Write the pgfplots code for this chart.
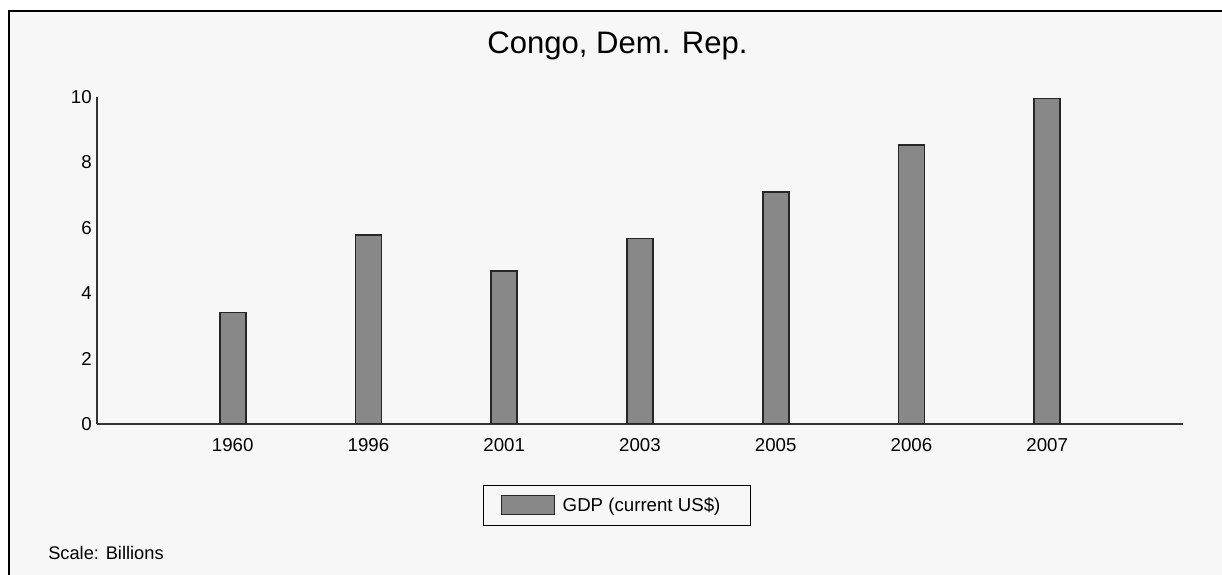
\documentclass[border=0pt]{standalone}
\usepackage{pgfplots}
\pgfplotsset{compat=1.18}
\usepackage{fontspec}
\setmainfont{Liberation Sans}
\definecolor{bgpanel}{HTML}{F7F7F7}
\definecolor{barfill}{HTML}{888888}
\definecolor{barline}{HTML}{262626}
\definecolor{axisline}{HTML}{333333}
\begin{document}
% 1 px of the reference = 0.75pt
\begin{tikzpicture}
\begin{scope}[x=0.75pt,y=0.75pt]
\useasboundingbox (0,0) rectangle (1222,575);
\fill[white] (0,0) rectangle (1222,575);
\fill[bgpanel] (9,0) rectangle (1222,564);
\draw[black, line width=1.6pt] (9,0) -- (9,564) -- (1222,564);
\end{scope}
\begin{axis}[
    at={(72.75pt,113.25pt)}, anchor=south west,
    width=814.5pt, height=245.25pt, scale only axis,
    xmin=0, xmax=8, ymin=0, ymax=10,
    axis x line*=bottom, axis y line*=left,
    axis line style={axisline, line width=1.1pt},
    xtick={1,...,7},
    xticklabels={1960,1996,2001,2003,2005,2006,2007},
    ytick={0,2,4,6,8,10},
    major tick length=0pt,
    /pgf/number format/assume math mode=true,
    tick label style={font=\fontsize{14}{16}\selectfont, text=black},
    xticklabel style={anchor=north, inner sep=0pt, yshift=-10.5pt},
    yticklabel style={anchor=east, inner sep=0pt, xshift=-3.75pt},
    legend style={at={(0.4788,-0.2485)}, anchor=center, draw=black,
        line width=0.8pt, fill=bgpanel, inner xsep=12.75pt, inner ysep=7.5pt,
        font=\fontsize{14}{16}\selectfont,
        nodes={inner sep=0pt},
        /tikz/every odd column/.append style={column sep=6pt}},
    legend image code/.code={\draw[fill=barfill, draw=barline, line width=0.9pt]
        (0pt,-7.1pt) rectangle (39.75pt,7.1pt);},
]
\addplot[ybar, bar width=19.5pt, bar shift=0pt, fill=barfill, draw=barline, line width=1.2pt]
    coordinates {(1,3.41) (2,5.78) (3,4.67) (4,5.67) (5,7.10) (6,8.53) (7,9.95)};
\legend{GDP (current US\$)\rule{9.75pt}{0pt}}
\end{axis}
\begin{scope}[x=0.75pt,y=0.75pt]
\node[anchor=base, inner sep=0pt, font=\fontsize{23.3}{26}\selectfont] at (617.5,521) {Congo, Dem. Rep.};
\node[anchor=base west, inner sep=0pt, font=\fontsize{13.7}{16}\selectfont] at (48,15) {Scale: Billions};
\end{scope}
\end{tikzpicture}
\end{document}
